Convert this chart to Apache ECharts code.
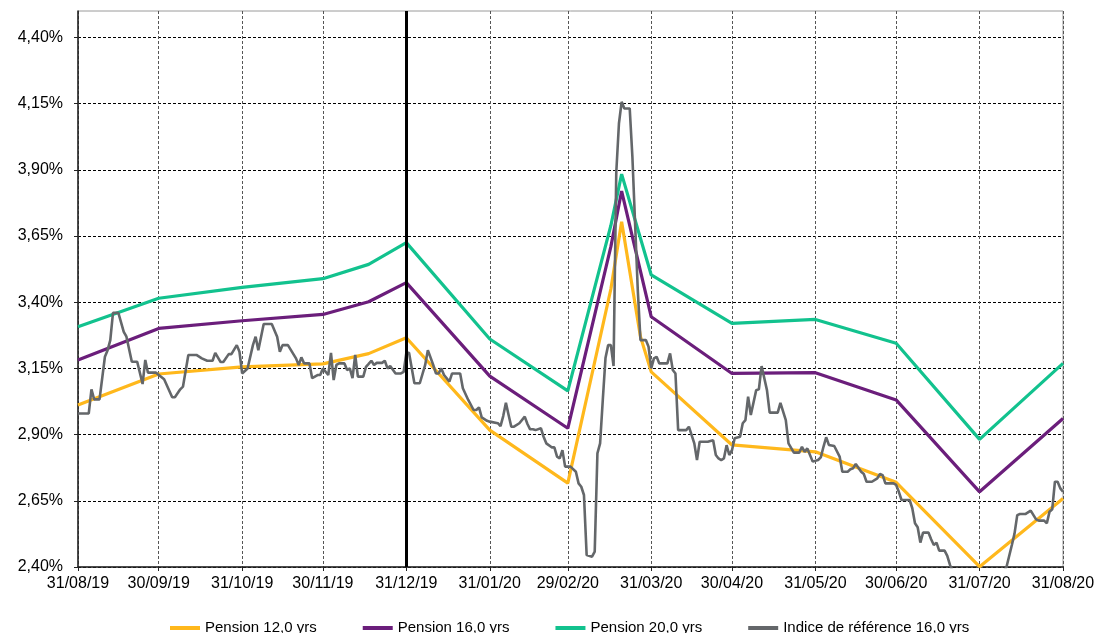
<!DOCTYPE html>
<html>
<head>
<meta charset="utf-8">
<title>Pension vs indice de référence</title>
<script src="https://cdn.jsdelivr.net/npm/echarts@6.0.0/dist/echarts.min.js"></script>
<style>
  html, body { margin: 0; padding: 0; background: #fff; }
  #chart { width: 1100px; height: 633px; }
</style>
</head>
<body>
<div id="chart"></div>
<script>
// x values are days counted from 31/08/2019
const monthDays = [0, 30, 61, 91, 122, 153, 182, 213, 243, 274, 304, 335, 366];
const monthLabels = ['31/08/19', '30/09/19', '31/10/19', '30/11/19', '31/12/19', '31/01/20',
  '29/02/20', '31/03/20', '30/04/20', '31/05/20', '30/06/20', '31/07/20', '31/08/20'];
const yTicks = [2.40, 2.65, 2.90, 3.15, 3.40, 3.65, 3.90, 4.15, 4.40];
const markerDay = 122; // 31/12/19

const pension12 = [[0, 3.012], [30, 3.129], [61, 3.156], [91, 3.167], [108, 3.206], [122, 3.266],
  [153, 2.917], [182, 2.717], [198, 3.45], [202, 3.704], [209, 3.27], [213, 3.137], [243, 2.861],
  [274, 2.835], [304, 2.72], [335, 2.401], [366, 2.659]];

const pension16 = [[0, 3.182], [30, 3.301], [61, 3.330], [91, 3.354], [108, 3.402], [122, 3.474],
  [153, 3.121], [182, 2.924], [198, 3.61], [202, 3.820], [213, 3.345], [243, 3.131], [274, 3.134],
  [304, 3.031], [335, 2.684], [366, 2.961]];

const pension20 = [[0, 3.307], [30, 3.415], [61, 3.456], [91, 3.489], [108, 3.543], [122, 3.625],
  [153, 3.261], [182, 3.065], [198, 3.69], [202, 3.884], [213, 3.503], [243, 3.320], [274, 3.335],
  [304, 3.245], [335, 2.882], [366, 3.169]];

const indice16 = [[0, 2.980], [4, 2.980], [5, 3.071], [6, 3.033], [8, 3.033], [10, 3.194], [11, 3.219],
  [12, 3.257], [13, 3.360], [15, 3.360], [17, 3.288], [18, 3.270], [20, 3.175], [22, 3.175], [24, 3.091],
  [25, 3.182], [26, 3.134], [29, 3.134], [32, 3.109], [35, 3.041], [36, 3.041], [38, 3.071], [39, 3.081],
  [41, 3.201], [44, 3.201], [46, 3.188], [48, 3.179], [50, 3.179], [51, 3.209], [53, 3.174], [54, 3.174],
  [56, 3.204], [57, 3.204], [59, 3.238], [60, 3.213], [61, 3.131], [63, 3.150], [65, 3.238], [66, 3.270],
  [67, 3.219], [69, 3.318], [72, 3.318], [74, 3.270], [75, 3.213], [76, 3.238], [78, 3.238], [81, 3.188],
  [82, 3.163], [83, 3.192], [84, 3.169], [86, 3.169], [87, 3.113], [89, 3.125], [90, 3.125], [91, 3.150],
  [93, 3.125], [94, 3.209], [95, 3.106], [96, 3.163], [97, 3.169], [99, 3.169], [100, 3.144], [101, 3.150],
  [102, 3.113], [103, 3.201], [104, 3.119], [106, 3.119], [107, 3.156], [108, 3.167], [109, 3.179],
  [110, 3.163], [111, 3.171], [113, 3.171], [114, 3.179], [115, 3.150], [116, 3.159], [118, 3.131],
  [120, 3.131], [121, 3.137], [122, 3.209], [123, 3.209], [125, 3.094], [127, 3.094], [129, 3.163],
  [130, 3.219], [132, 3.163], [133, 3.131], [134, 3.131], [135, 3.150], [136, 3.125], [138, 3.100],
  [139, 3.131], [142, 3.131], [143, 3.075], [145, 3.031], [147, 2.993], [148, 2.993], [149, 3.003],
  [150, 2.965], [152, 2.952], [153, 2.949], [156, 2.943], [157, 2.932], [158, 2.970], [159, 3.020],
  [160, 2.974], [161, 2.930], [162, 2.930], [164, 2.943], [166, 2.968], [167, 2.940], [168, 2.920],
  [169, 2.920], [170, 2.917], [172, 2.924], [173, 2.892], [174, 2.867], [176, 2.852], [177, 2.852],
  [178, 2.817], [179, 2.810], [180, 2.841], [181, 2.779], [183, 2.779], [185, 2.760], [186, 2.716],
  [187, 2.703], [188, 2.672], [189, 2.445], [191, 2.439], [192, 2.458], [193, 2.829], [194, 2.867],
  [195, 3.031], [196, 3.189], [197, 3.238], [198, 3.238], [199, 3.159], [200, 3.888], [201, 4.075],
  [202, 4.157], [203, 4.132], [205, 4.132], [206, 3.949], [207, 3.698], [208, 3.446], [209, 3.257],
  [211, 3.257], [212, 3.232], [213, 3.150], [214, 3.188], [215, 3.194], [216, 3.169], [219, 3.169],
  [220, 3.207], [221, 3.144], [222, 3.131], [223, 2.917], [226, 2.917], [227, 2.930], [229, 2.867],
  [230, 2.804], [231, 2.873], [234, 2.873], [236, 2.879], [237, 2.823], [238, 2.810], [239, 2.804],
  [240, 2.810], [241, 2.860], [242, 2.823], [243, 2.841], [244, 2.886], [246, 2.892], [247, 2.943],
  [248, 2.955], [249, 3.043], [250, 2.974], [252, 3.068], [253, 3.071], [254, 3.159], [256, 3.068],
  [257, 2.983], [260, 2.983], [261, 3.020], [263, 2.955], [264, 2.867], [266, 2.832], [268, 2.832],
  [269, 2.854], [270, 2.835], [271, 2.848], [273, 2.798], [275, 2.804], [276, 2.814], [277, 2.854],
  [278, 2.890], [279, 2.861], [281, 2.857], [283, 2.817], [284, 2.760], [286, 2.760], [287, 2.769],
  [288, 2.773], [289, 2.789], [291, 2.760], [292, 2.751], [293, 2.722], [295, 2.722], [297, 2.735],
  [298, 2.751], [299, 2.747], [300, 2.716], [303, 2.716], [304, 2.710], [305, 2.684], [306, 2.653],
  [309, 2.653], [310, 2.622], [311, 2.565], [312, 2.550], [313, 2.492], [314, 2.530], [316, 2.530],
  [317, 2.505], [318, 2.483], [319, 2.492], [320, 2.462], [322, 2.462], [323, 2.442], [324, 2.408],
  [325, 2.382], [328, 2.33], [332, 2.30], [336, 2.31], [340, 2.33], [343, 2.37], [345, 2.400],
  [347, 2.483], [348, 2.527], [349, 2.596], [350, 2.600], [352, 2.600], [354, 2.613], [356, 2.580],
  [357, 2.575], [359, 2.575], [360, 2.565], [361, 2.609], [362, 2.618], [363, 2.722], [364, 2.722],
  [365, 2.697], [366, 2.684]];

const chart = echarts.init(document.getElementById('chart'));

const pct = v => v.toFixed(2).replace('.', ',') + '%';
const dayLabel = d => {
  const i = monthDays.indexOf(Math.round(d));
  return i < 0 ? '' : monthLabels[i];
};

const line = (name, data, color, width) => ({
  name: name,
  type: 'line',
  data: data,
  color: color,
  symbol: 'none',
  lineStyle: { color: color, width: width },
  clip: true
});

const greySeries = line('Indice de référence 16,0 yrs', indice16, '#64676a', 2.6);
greySeries.markLine = {
  silent: true,
  symbol: ['none', 'none'],
  label: { show: false },
  lineStyle: { color: '#000', width: 3, type: 'solid' },
  data: [{ xAxis: markerDay }]
};

const option = {
  animation: false,
  textStyle: { fontFamily: 'Liberation Sans, Arial, sans-serif', color: '#000' },
  grid: {
    left: 78, right: 37, top: 11, bottom: 66,
    show: true, borderColor: '#9a9a9a', borderWidth: 1
  },
  legend: {
    left: 170,
    top: 619,
    padding: 0,
    icon: 'rect',
    itemWidth: 30,
    itemHeight: 4,
    itemGap: 46,
    textStyle: { fontSize: 15, color: '#000', lineHeight: 18 }
  },
  xAxis: {
    type: 'value',
    min: 0,
    max: 366,
    axisLine: { show: true, lineStyle: { color: '#222', width: 1.5 } },
    axisTick: { show: true, customValues: monthDays, length: 4, lineStyle: { color: '#222' } },
    axisLabel: { customValues: monthDays, formatter: dayLabel, fontSize: 16, color: '#000', margin: 9 },
    splitLine: { show: true, lineStyle: { color: '#555', width: 1, type: [3, 2] } }
  },
  yAxis: {
    type: 'value',
    min: 2.4,
    max: 4.5,
    axisLine: { show: true, lineStyle: { color: '#222', width: 1.5 } },
    axisTick: { show: true, customValues: yTicks, length: 4, lineStyle: { color: '#222' } },
    axisLabel: { customValues: yTicks, formatter: pct, fontSize: 16, color: '#000', margin: 15 },
    splitLine: { show: true, lineStyle: { color: '#000', width: 1, type: [3, 2] } }
  },
  series: [
    line('Pension 12,0 yrs', pension12, '#ffb81c', 3.2),
    line('Pension 16,0 yrs', pension16, '#6b1e7b', 3.2),
    line('Pension 20,0 yrs', pension20, '#12c28e', 3.2),
    greySeries
  ]
};

chart.setOption(option);
</script>
</body>
</html>
